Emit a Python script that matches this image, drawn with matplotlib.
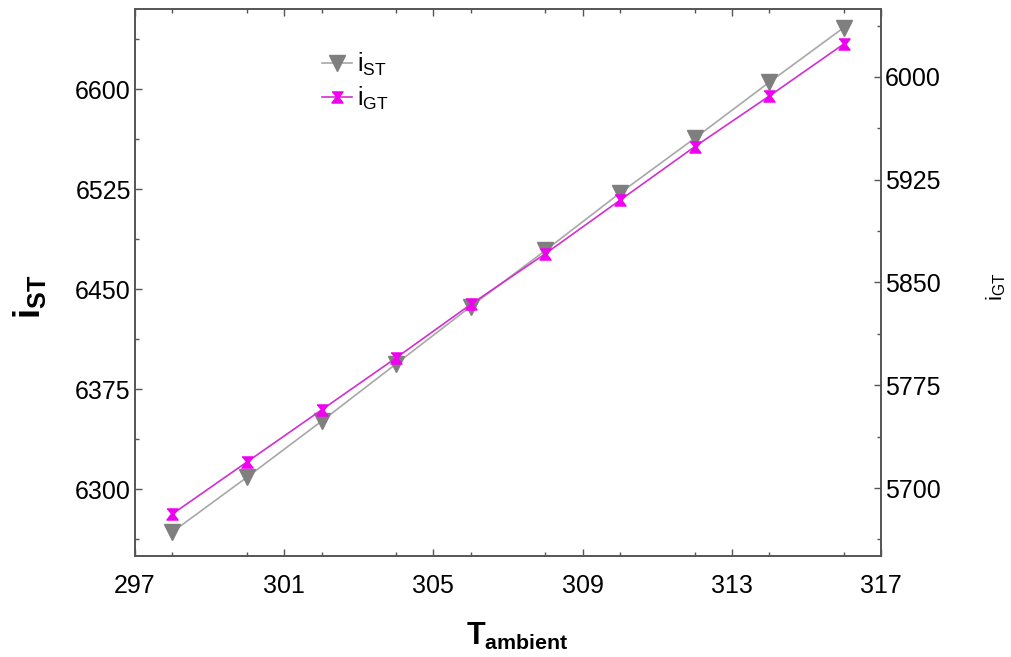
import matplotlib
matplotlib.use("Agg")
import matplotlib.pyplot as plt
from matplotlib.ticker import MultipleLocator

plt.rcParams['font.family'] = ['Liberation Sans', 'DejaVu Sans']
plt.rcParams['mathtext.fontset'] = 'custom'
plt.rcParams['mathtext.rm'] = 'Liberation Sans'
plt.rcParams['mathtext.bf'] = 'Liberation Sans:bold'
plt.rcParams['mathtext.it'] = 'Liberation Sans'

# ambient temperature and the two currents
t_ambient = [298, 300, 302, 304, 306, 308, 310, 312, 314, 316]
i_st = [6268, 6309, 6351, 6394, 6437, 6479, 6522, 6563, 6605, 6646]
i_gt = [5681, 5719, 5757, 5795, 5834, 5871, 5910, 5949, 5986, 6024]

st_ticks = [6300, 6375, 6450, 6525, 6600]
gt_ticks = [5700, 5775, 5850, 5925, 6000]
t_ticks = [297, 301, 305, 309, 313, 317]

# hourglass marker
hourglass = [(-1, 1), (1, 1), (0.25, 0), (1, -1), (-1, -1), (-0.25, 0)]

W, H = 1011, 657
fig = plt.figure(figsize=(W / 100, H / 100), dpi=100)
ax = fig.add_axes([135 / W, (H - 556) / H, (881 - 135) / W, (556 - 9) / H])
ax2 = ax.twinx()

l1, = ax.plot(t_ambient, i_st, color='#a8a8a8', lw=1.2, marker='v',
              markersize=11, markerfacecolor='#7f7f7f', markeredgecolor='#7f7f7f',
              label=r'$\mathrm{i}_{\mathrm{ST}}$', zorder=3)
l2, = ax2.plot(t_ambient, i_gt, color='#d22ed2', lw=1.2, marker=hourglass,
               markersize=8, markerfacecolor='#f000f0', markeredgecolor='#f000f0',
               label=r'$\mathrm{i}_{\mathrm{GT}}$', zorder=3)

ax.set_xlim(297, 317)
ax.set_ylim(6250, 6660)
ax2.set_ylim(5650.4, 6049.6)

ax.set_xticks(t_ticks)
ax.xaxis.set_minor_locator(MultipleLocator(2))
ax.set_yticks(st_ticks)
ax.yaxis.set_minor_locator(MultipleLocator(37.5))
ax2.set_yticks(gt_ticks)
ax2.yaxis.set_minor_locator(MultipleLocator(37.5))

spine_col = '#555555'
for a in (ax, ax2):
    for s in a.spines.values():
        s.set_color(spine_col)
        s.set_linewidth(1.2)

ax.tick_params(axis='x', which='both', direction='in', top=True, bottom=True,
               colors=spine_col, labelcolor='black', labelsize=18, pad=13)
ax.tick_params(axis='y', which='both', direction='in', right=False,
               colors=spine_col, labelcolor='black', labelsize=18, pad=3)
ax2.tick_params(axis='y', which='both', direction='in',
                colors=spine_col, labelcolor='black', labelsize=18, pad=3)
for a in (ax, ax2):
    a.tick_params(which='major', length=5, width=1)
    a.tick_params(which='minor', length=2.8, width=1)

ax.set_xlabel(r'$\mathbf{T}_{\mathbf{ambient}}$', fontsize=22)
ax.xaxis.set_label_coords((517 - 135) / 746, (556 - 621) / 547)
ax.set_ylabel(r'$\mathbf{i}_{\mathbf{ST}}$', fontsize=26)
ax.yaxis.set_label_coords((48 - 135) / 746, (556 - 297) / 547)
ax2.set_ylabel(r'$\mathrm{i}_{\mathrm{GT}}$', fontsize=16)
ax2.yaxis.set_label_coords((984 - 135) / 746, (556 - 287) / 547)

ax.legend([l1, l2], [l1.get_label(), l2.get_label()], loc='center left',
          bbox_to_anchor=(322 / W, 1 - 81.5 / H), bbox_transform=fig.transFigure,
          frameon=False, fontsize=18, handlelength=1.2, handletextpad=0.2,
          borderpad=0, borderaxespad=0, labelspacing=0.25)

fig.savefig('out.png', dpi=100)
